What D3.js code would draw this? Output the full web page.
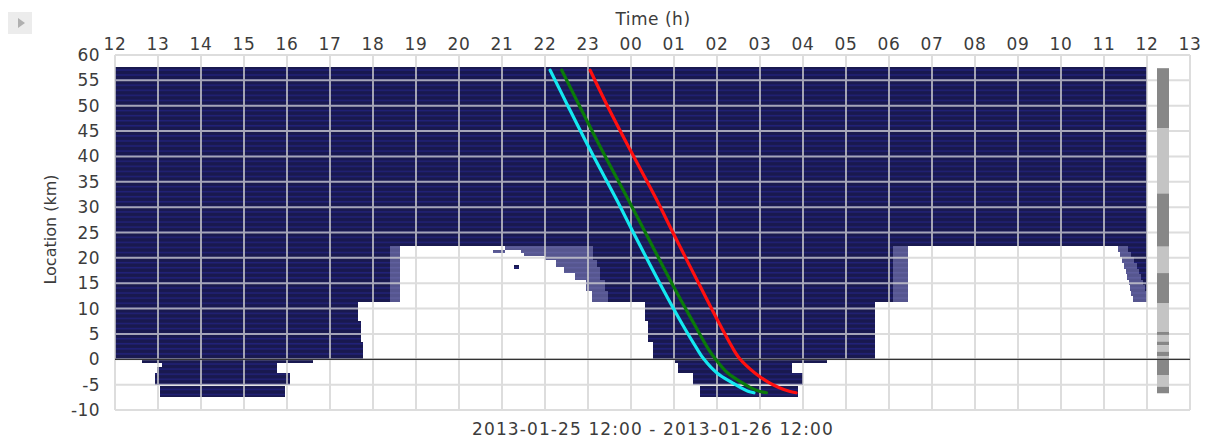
<!DOCTYPE html>
<html><head><meta charset="utf-8">
<script src="https://cdn.jsdelivr.net/npm/d3@7/dist/d3.min.js"></script>
<style>
body{margin:0;background:#fff;}
svg{display:block;font-family:"DejaVu Sans",Verdana,sans-serif;}
</style></head><body>
<svg id="c" width="1207" height="438"></svg>
<script>
// ---- data ----
const hourTicks = [12,13,14,15,16,17,18,19,20,21,22,23,24,25,26,27,28,29,30,31,32,33,34,35,36,37];
const hourLabels = ["12","13","14","15","16","17","18","19","20","21","22","23","00","01","02","03","04","05","06","07","08","09","10","11","12","13"];
const kmTicks = [60,55,50,45,40,35,30,25,20,15,10,5,0,-5,-10];
// dark (occupied) cells: [tStart, tEnd, kmLow, kmHigh]
const darkCells = [
  [12, 36, 22.3, 57.7],
  [12, 18.4, 11.3, 22.3],
  [12, 17.66, 7.5, 11.3],
  [12, 17.72, 3.5, 7.5],
  [12, 17.77, 0, 3.5],
  [23.1, 30.09, 11.3, 22.3],
  [24.33, 29.67, 7.5, 11.3],
  [24.4, 29.67, 3.5, 7.5],
  [24.5, 29.67, 0, 3.5],
  [21.28, 21.4, 17.8, 18.6],
  [35.56, 36, 21.2, 22.3],
  [35.63, 36, 20.1, 21.2],
  [35.7, 36, 19.0, 20.1],
  [35.76, 36, 17.9, 19.0],
  [35.81, 36, 16.8, 17.9],
  [35.86, 36, 15.7, 16.8],
  [35.9, 36, 14.6, 15.7],
  [35.95, 36, 13.5, 14.6],
  [12.63, 16.6, -0.8, 0],
  [13.09, 15.77, -1.6, -0.8],
  [12.97, 15.77, -2.7, -1.6],
  [12.93, 16.07, -5.0, -2.7],
  [13.05, 15.95, -7.4, -5.3],
  [25.02, 28.56, -0.8, 0],
  [25.1, 27.74, -2.7, -0.8],
  [25.44, 28.0, -5.0, -2.7],
  [25.6, 27.88, -7.4, -5.3]
];
// lighter (partial) cells: [tStart, tEnd, kmLow, kmHigh]
const lightCells = [
  [18.4, 18.63, 11.3, 22.3],
  [21.07, 23.12, 21.6, 22.3],
  [20.8, 21.07, 20.9, 21.6],
  [21.45, 23.12, 20.9, 21.6],
  [21.5, 23.12, 20.3, 20.9],
  [22.0, 23.12, 19.5, 20.3],
  [22.25, 23.2, 18.2, 19.5],
  [22.45, 23.28, 17.0, 18.2],
  [22.7, 23.28, 15.6, 17.0],
  [22.95, 23.4, 13.5, 15.6],
  [23.1, 23.47, 11.3, 13.5],
  [30.09, 30.44, 11.3, 22.3],
  [35.33, 35.56, 21.2, 22.3],
  [35.38, 35.63, 20.1, 21.2],
  [35.43, 35.7, 19.0, 20.1],
  [35.47, 35.76, 17.9, 19.0],
  [35.5, 35.81, 16.8, 17.9],
  [35.53, 35.86, 15.7, 16.8],
  [35.57, 35.9, 14.6, 15.7],
  [35.6, 35.95, 13.5, 14.6],
  [35.63, 36, 12.4, 13.5],
  [35.67, 36, 11.3, 12.4]
];
// trajectories: location (km) vs time (h)
const trackKm = [57, 50, 41.3, 31.4, 24.9, 13.7, 7.1, 2, 0.2, -2.7, -4.7, -5.6, -6.3, -6.6];
const cyanT  = [22.12, 22.53, 23.05, 23.67, 24.06, 24.75, 25.18, 25.54, 25.68, 26.0, 26.37, 26.55, 26.72, 26.86];
const greenT = [22.39, 22.8, 23.32, 23.94, 24.34, 25.03, 25.46, 25.8, 25.95, 26.25, 26.6, 26.78, 26.98, 27.15];
const redT   = [23.05, 23.45, 23.98, 24.6, 24.98, 25.65, 26.05, 26.38, 26.52, 26.88, 27.23, 27.45, 27.68, 27.84];
// right-hand strip segments: [kmHigh, kmLow, level]
const stripSegments = [
  [57.4, 45.6, 1],[45.6, 32.7, 0],[32.7, 22.2, 1],[22.2, 17.0, 0],[17.0, 11.0, 1],
  [11.0, 5.4, 0],[5.4, 4.8, 1],[4.8, 3.5, 0],[3.5, 2.8, 1],[2.8, 1.5, 0],
  [1.5, 0.65, 1],[0.65, 0, 0],[0, -3.1, 1],[-3.1, -5.4, 0],[-5.4, -6.7, 1]
];
const xTitle = "Time (h)";
const yTitle = "Location (km)";
const periodLabel = "2013-01-25 12:00 - 2013-01-26 12:00";

// ---- layout ----
const L = 115, R = 1190, T = 55, B = 410;
const x = d3.scaleLinear().domain([12, 37]).range([L, R]);
const y = d3.scaleLinear().domain([-10, 60]).range([B, T]);
const svg = d3.select("#c");

const defs = svg.append("defs");
const pd = defs.append("pattern").attr("id","pd").attr("patternUnits","userSpaceOnUse")
  .attr("width", 10).attr("height", 5.07);
pd.append("rect").attr("width",10).attr("height",5.07).attr("fill","#19194f");
pd.append("rect").attr("y",3.3).attr("width",10).attr("height",1.5).attr("fill","#212178");
const pl = defs.append("pattern").attr("id","pl").attr("patternUnits","userSpaceOnUse")
  .attr("width", 10).attr("height", 5.07);
pl.append("rect").attr("width",10).attr("height",5.07).attr("fill","#56568f");
pl.append("rect").attr("y",3.3).attr("width",10).attr("height",1.5).attr("fill","#5f5f9e");

// play button
svg.append("rect").attr("x",8).attr("y",12).attr("width",24).attr("height",22).attr("fill","#ececec");
svg.append("path").attr("d","M18,18 L25,23 L18,28 Z").attr("fill","#b0b0b0");

// cells
const cellRect = (sel, data, fill) => sel.selectAll(null).data(data).enter().append("rect")
  .attr("x", d => x(d[0])).attr("width", d => x(d[1]) - x(d[0]))
  .attr("y", d => y(d[3])).attr("height", d => y(d[2]) - y(d[3]))
  .attr("fill", fill).attr("shape-rendering","crispEdges");
cellRect(svg.append("g"), darkCells, "url(#pd)");
cellRect(svg.append("g"), lightCells, "url(#pl)");

// grid
const grid = svg.append("g").attr("stroke","#d2d2d2").attr("stroke-width",2).attr("opacity",0.75);
grid.selectAll(null).data(hourTicks).enter().append("line")
  .attr("x1", d => x(d)).attr("x2", d => x(d)).attr("y1", T).attr("y2", B);
grid.selectAll(null).data(kmTicks).enter().append("line")
  .attr("y1", d => y(d)).attr("y2", d => y(d)).attr("x1", L).attr("x2", R);

// strip
svg.append("g").selectAll(null).data(stripSegments).enter().append("rect")
  .attr("x", x(36) + 10).attr("width", 12)
  .attr("y", d => y(d[0])).attr("height", d => y(d[1]) - y(d[0]))
  .attr("fill", d => d[2] ? "#878787" : "#c4c4c4");

// zero line
svg.append("line").attr("x1",L).attr("x2",R).attr("y1",y(0)).attr("y2",y(0))
  .attr("stroke","#333").attr("stroke-width",1.3);

// tracks
const line = d3.line().x(d => x(d[0])).y(d => y(d[1])).curve(d3.curveCatmullRom.alpha(0.5));
[[cyanT,"#14e8f0"],[greenT,"#0a7a0a"],[redT,"#ff1010"]].forEach(([ts,col]) => {
  svg.append("path").datum(ts.map((t,i) => [t, trackKm[i]]))
    .attr("d", line).attr("fill","none").attr("stroke",col)
    .attr("stroke-width",3.2).attr("stroke-linecap","round").attr("stroke-linejoin","round");
});

// axes labels
const txt = svg.append("g").attr("fill","#3c3c3c").attr("font-size","17px");
txt.selectAll(null).data(hourTicks).enter().append("text")
  .attr("x", d => x(d)).attr("y", 50).attr("text-anchor","middle").attr("letter-spacing","0.6px")
  .text((d,i) => hourLabels[i]);
txt.selectAll(null).data(kmTicks).enter().append("text")
  .attr("x", 100).attr("y", d => y(d) + 6).attr("text-anchor","end").attr("letter-spacing","0.4px")
  .text(d => String(d));
txt.append("text").attr("x", 653).attr("y", 25).attr("text-anchor","middle").attr("font-size","17px").attr("letter-spacing","0.5px").text(xTitle);
txt.append("text").attr("transform", `translate(56,${(T+B)/2 - 3}) rotate(-90)`)
  .attr("text-anchor","middle").attr("font-size","16px").text(yTitle);
txt.append("text").attr("x", 653).attr("y", 435).attr("text-anchor","middle").attr("font-size","17px").attr("letter-spacing","1.1px").text(periodLabel);
</script>
</body></html>
